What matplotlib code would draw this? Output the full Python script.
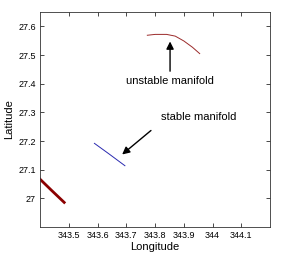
import numpy as np
import matplotlib
matplotlib.use('Agg')
import matplotlib.pyplot as plt

# unstable manifold branch (top)
unst_lon = [343.773, 343.80, 343.84, 343.87, 343.90, 343.93, 343.955]
unst_lat = [27.569, 27.572, 27.572, 27.566, 27.549, 27.527, 27.505]

# stable manifold branch (blue)
st_lon = [343.589, 343.64, 343.695]
st_lat = [27.192, 27.155, 27.114]

# segment at lower left
low_lon = [343.40, 343.44, 343.484]
low_lat = [27.067, 27.028, 26.986]

xticks = [343.5, 343.6, 343.7, 343.8, 343.9, 344.0, 344.1]
xticklabels = ['343.5', '343.6', '343.7', '343.8', '343.9', '344', '344.1']
yticks = [27.0, 27.1, 27.2, 27.3, 27.4, 27.5, 27.6]
yticklabels = ['27', '27.1', '27.2', '27.3', '27.4', '27.5', '27.6']

plt.rcParams['font.family'] = ['Liberation Sans', 'DejaVu Sans']

fig = plt.figure(figsize=(2.82, 2.56), dpi=100)
ax = fig.add_axes([0.142, 0.113, 0.816, 0.84])

ax.plot(unst_lon, unst_lat, color='#9b2a2a', linewidth=0.7)
ax.plot(st_lon, st_lat, color='#2a2ab0', linewidth=0.7)
ax.plot(low_lon, low_lat, color='#8b0000', linewidth=2.0)

# arrows + labels
ax.annotate('', xy=(343.852, 27.557), xytext=(343.852, 27.434),
            arrowprops=dict(arrowstyle='-|>', color='black', lw=1.0, mutation_scale=11))
ax.text(343.85, 27.41, 'unstable manifold', fontsize=8, ha='center', va='center')

ax.annotate('', xy=(343.678, 27.147), xytext=(343.793, 27.243),
            arrowprops=dict(arrowstyle='-|>', color='black', lw=1.0, mutation_scale=11))
ax.text(343.952, 27.285, 'stable manifold', fontsize=8, ha='center', va='center')

ax.set_xlim(343.4, 344.2)
ax.set_ylim(26.9, 27.65)
ax.set_xticks(xticks)
ax.set_xticklabels(xticklabels)
ax.set_yticks(yticks)
ax.set_yticklabels(yticklabels)
ax.tick_params(direction='in', top=True, right=True, labelsize=6.5, length=3, width=0.5, pad=3)
for s in ax.spines.values():
    s.set_linewidth(0.6)
    s.set_color('#333333')

ax.set_xlabel('Longitude', fontsize=8, labelpad=1)
ax.set_ylabel('Latitude', fontsize=8, labelpad=3)

fig.savefig('out.png', dpi=100)
